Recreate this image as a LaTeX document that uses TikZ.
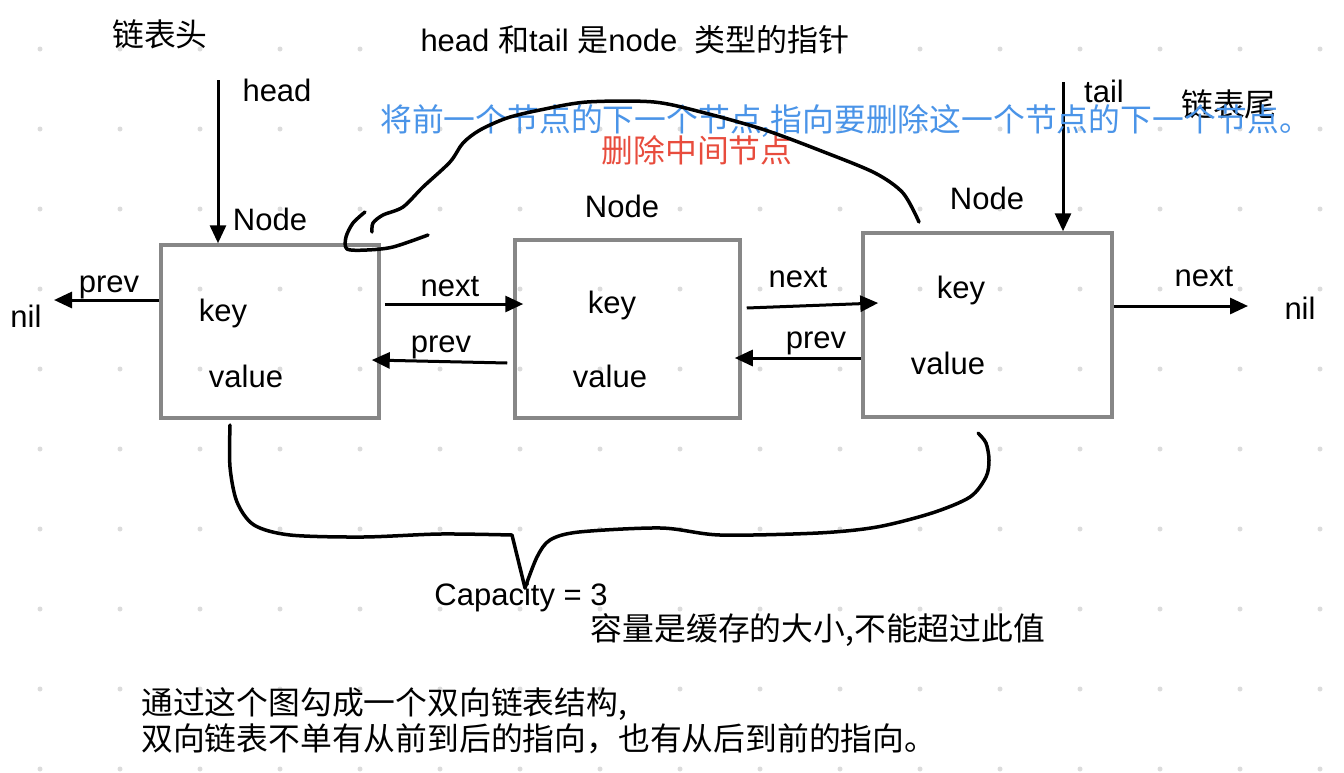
\documentclass[tikz,border=0pt]{standalone}
\usepackage{fontspec}
\setmainfont{Liberation Sans}
\newfontfamily\cjk{Noto Sans CJK SC}
\usepackage{tikz}
\usetikzlibrary{arrows.meta, calc, positioning}
\definecolor{gridgray}{RGB}{220,220,220}
\definecolor{boxgray}{RGB}{135,135,135}
\definecolor{noteblue}{RGB}{74,148,232}
\definecolor{notered}{RGB}{232,76,61}

\begin{document}
\begin{tikzpicture}[x=1pt, y=-1pt,
    every node/.style={font=\fontsize{31}{36}\selectfont, inner sep=0pt},
    zh/.style={font=\fontsize{31.8}{36}\selectfont\cjk},
    box/.style={draw=boxgray, line width=3.5pt},
    arr/.style={line width=3pt, -{Triangle[length=18pt,width=16pt]}},
    hand/.style={line width=3.5pt, line cap=round, line join=round}]
    % page and dotted grid
    \useasboundingbox[fill=white] (0,0) rectangle (1344,772);
    \foreach \i in {0,...,16}
        \foreach \j in {0,...,9}
            \fill[gridgray] ({40+80*\i},{49+80*\j}) circle (2.5pt);

    % the three nodes
    \node[box, minimum width=218pt, minimum height=173pt] (n1) at (270,331.5) {};
    \node[box, minimum width=225pt, minimum height=178pt] (n2) at (627.5,329) {};
    \node[box, minimum width=249pt, minimum height=184pt] (n3) at (987.5,325) {};
    \node (t1) at (270,219) {Node};
    \node (t2) at (622,206) {Node};
    \node (t3) at (987,198) {Node};
    \node (k1) at (223,313) {key};
    \node (v1) at (246,376) {value};
    \node (k2) at (612,305) {key};
    \node (v2) at (610,376) {value};
    \node (k3) at (961,290) {key};
    \node (v3) at (948,363) {value};

    % head and tail
    \node[zh] (lhead) at (160,34) {链表头};
    \node[zh] (ltail) at (1229,104) {链表尾};
    \node (ptr) at (635,40) {head {\cjk 和}tail {\cjk 是}node\ \ {\cjk 类型的指针}};
    \node (hlab) at (277,90) {head};
    \node (tlab) at (1104,91) {tail};
    \coordinate (hd) at (218,80);
    \coordinate (tl) at (1063,82);
    \draw[arr] (hd) -- (hd |- n1.north);
    \draw[arr] (tl) -- (tl |- n3.north);

    % next / prev links
    \node (nl) at (26,316) {nil};
    \node (nr) at (1300,308) {nil};
    \coordinate (el) at (54,300);
    \coordinate (er) at (1248,306);
    \draw[arr] (n1.west |- el) -- (el);
    \draw[arr] ($(n1.east |- 0,304)+(4,0)$) -- ($(n2.west |- 0,304)+(10,0)$);
    \draw[arr] ($(n2.west |- 0,363)+(-6,0)$) -- ($(n1.east |- 0,360)+(-9,0)$);
    \draw[arr] ($(n2.east |- 0,308)+(5,0)$) -- ($(n3.west |- 0,303)+(17,0)$);
    \draw[arr] (n3.west |- 0,358) -- ($(n2.east |- 0,358)+(-7,0)$);
    \draw[arr] (n3.east |- er) -- (er);
    \node (pv0) at (109,287) {prev};
    \node (nx1) at (450,287) {next};
    \node (pv1) at (441,347) {prev};
    \node (nx2) at (798,278) {next};
    \node (pv2) at (816,343) {prev};
    \node (nx3) at (1204,277) {next};

    % removing the middle node
    \node[zh, text=noteblue, anchor=west] (note1) at (380,121) {将前一个节点的下一个节点,指向要删除这一个节点的下一个节点。};
    \node[zh, text=notered] (note2) at (697,150) {删除中间节点};
    \draw[hand] plot[smooth] coordinates {(919,222) (903,193) (875,173) (824,152) (765,130) (705,113) (654,102) (587,102) (540,110) (507,118) (480,130) (463,143) (450,162) (423,187) (403,207) (383,215) (373,223) (372,232)};
    \draw[hand] plot[smooth] coordinates {(365,212) (353,223) (346,237) (347,249) (367,250) (393,247) (428,235)};

    % capacity brace
    \draw[hand] plot[smooth] coordinates {(230,425) (230,467) (237,502) (254,525) (290,535) (363,537) (440,534) (512,535)} -- (525,588);
    \draw[hand] plot[smooth] coordinates {(525,588) (537,557) (550,540) (579,532) (661,528) (720,535) (818,533) (877,527) (932,513) (970,497) (986,477) (989,460) (986,443) (978,433)};
    \node (cap) at (521,597) {Capacity = 3};
    \node[zh] (capnote) at (818,630) {容量是缓存的大小,不能超过此值};

    % summary
    \node[zh, anchor=west, align=left] (desc) at (141,721) {通过这个图勾成一个双向链表结构,\\双向链表不单有从前到后的指向，也有从后到前的指向。};
\end{tikzpicture}
\end{document}
